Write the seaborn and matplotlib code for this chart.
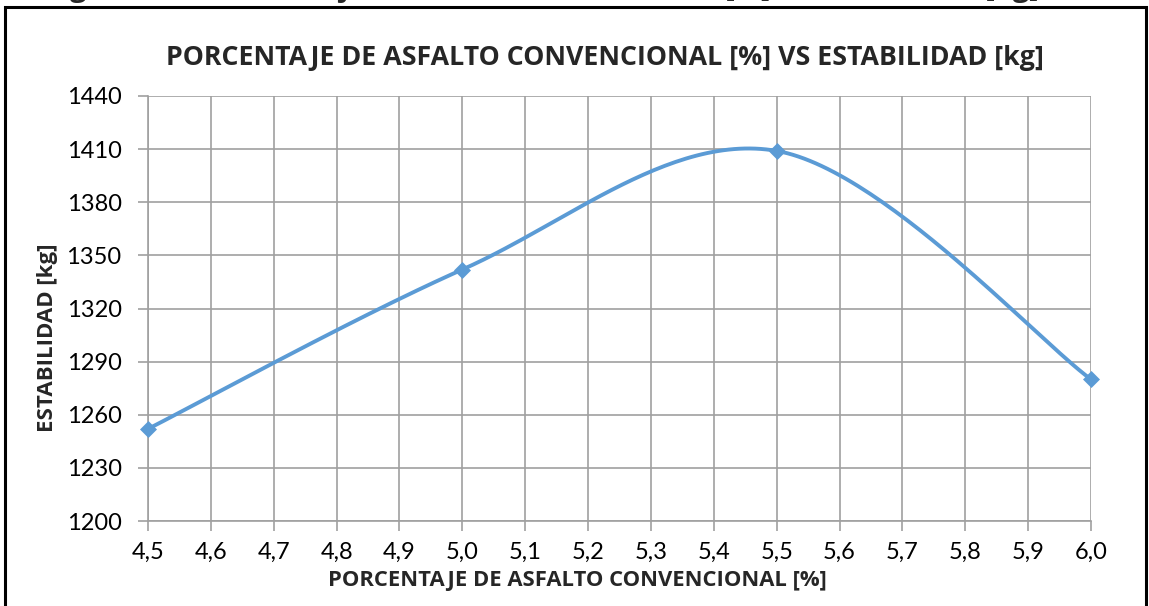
import numpy as np
import pandas as pd
import matplotlib
matplotlib.use("Agg")
import matplotlib.pyplot as plt
import seaborn as sns
from matplotlib.patches import Rectangle

# Marshall test results: asphalt content vs stability
asfalto = [4.5, 5.0, 5.5, 6.0]
estabilidad = [1252, 1342, 1409, 1280]

x_ticks = [4.5, 4.6, 4.7, 4.8, 4.9, 5.0, 5.1, 5.2, 5.3, 5.4, 5.5, 5.6, 5.7, 5.8, 5.9, 6.0]
x_tick_labels = ["4,5", "4,6", "4,7", "4,8", "4,9", "5,0", "5,1", "5,2", "5,3", "5,4",
                 "5,5", "5,6", "5,7", "5,8", "5,9", "6,0"]
y_ticks = [1200, 1230, 1260, 1290, 1320, 1350, 1380, 1410, 1440]

titulo = "PORCENTAJE DE ASFALTO CONVENCIONAL [%] VS ESTABILIDAD [kg]"
x_label = "PORCENTAJE DE ASFALTO CONVENCIONAL [%]"
y_label = "ESTABILIDAD [kg]"
caption = "Figura 4.16 Porcentaje de asfalto convencional [%] vs Estabilidad [kg]"


def smooth_curve(xs, ys, n=60):
    """Bezier smoothing through the points (tangent scale 1/6)."""
    pts = np.column_stack([xs, ys]).astype(float)
    out = []
    for i in range(len(pts) - 1):
        p0 = pts[i]
        p3 = pts[i + 1]
        prev = pts[i - 1] if i > 0 else pts[i]
        nxt = pts[i + 2] if i + 2 < len(pts) else pts[i + 1]
        c1 = p0 + (p3 - prev) / 6.0
        c2 = p3 - (nxt - p0) / 6.0
        t = np.linspace(0, 1, n)[:, None]
        seg = ((1 - t) ** 3) * p0 + 3 * ((1 - t) ** 2) * t * c1 + 3 * (1 - t) * t ** 2 * c2 + t ** 3 * p3
        out.append(seg if i == 0 else seg[1:])
    seg = np.vstack(out)
    return seg[:, 0], seg[:, 1]


sns.set_theme(style="white")
plt.rcParams["font.family"] = ["Lato", "DejaVu Sans"]
bold_font = ["Open Sans", "DejaVu Sans"]

fig = plt.figure(figsize=(11.49, 6.06), dpi=100)
ax = fig.add_axes([148 / 1149, 1 - 521 / 606, (1091 - 148) / 1149, (521 - 96) / 606])

sx, sy = smooth_curve(asfalto, estabilidad)
curve = pd.DataFrame({"x": sx, "y": sy})
pts = pd.DataFrame({"x": asfalto, "y": estabilidad})
color = "#5B9BD5"
sns.lineplot(data=curve, x="x", y="y", ax=ax, color=color, linewidth=2.8, sort=False,
             estimator=None, zorder=3)
sns.scatterplot(data=pts, x="x", y="y", ax=ax, color=color, marker="D", s=75,
                edgecolor=color, linewidth=0, zorder=4, clip_on=False)
for ln in ax.lines:
    ln.set_clip_on(False)

ax.set_xlim(4.5, 6.0)
ax.set_ylim(1200, 1440)
ax.set_xticks(x_ticks)
ax.set_xticklabels(x_tick_labels)
ax.set_yticks(y_ticks)
ax.set_yticklabels([str(v) for v in y_ticks])
ax.grid(True, color="#A0A0A0", linewidth=1.2)
ax.set_axisbelow(True)
for s in ["top", "right"]:
    ax.spines[s].set_visible(False)
for s in ["left", "bottom"]:
    ax.spines[s].set_color("#A0A0A0")
    ax.spines[s].set_linewidth(1.2)
ax.tick_params(axis="both", which="major", length=7, width=1.2, color="#A0A0A0",
               labelsize=17, labelcolor="black", direction="out")
ax.tick_params(axis="y", pad=12)
ax.tick_params(axis="x", pad=8)
ax.tick_params(bottom=True, left=True)

ax.set_xlabel(x_label, fontsize=15.8, fontweight="bold", family=bold_font)
ax.set_ylabel(y_label, fontsize=16, fontweight="bold", family=bold_font)
ax.xaxis.set_label_coords(0.455, -0.139)
ax.yaxis.set_label_coords(-0.107, 0.43)
ax.xaxis.label.set_va("center")
ax.yaxis.label.set_va("center")
fig.text(605 / 1149, 1 - 58 / 606, titulo, ha="center", va="center",
         fontsize=19.3, fontweight="bold", family=bold_font)

# outer chart frame
fig.patches.append(Rectangle((5 / 1149, -0.02), (1146 - 5) / 1149, 1.02 - 7 / 606,
                             transform=fig.transFigure, fill=False,
                             edgecolor="black", linewidth=2.2))

# caption line above the frame, mostly outside the canvas
fig.text(45 / 1149, 1 + 4 / 606, caption, ha="left", va="baseline",
         fontsize=21, fontweight="bold", family=bold_font)

fig.savefig("out.png", dpi=100)
